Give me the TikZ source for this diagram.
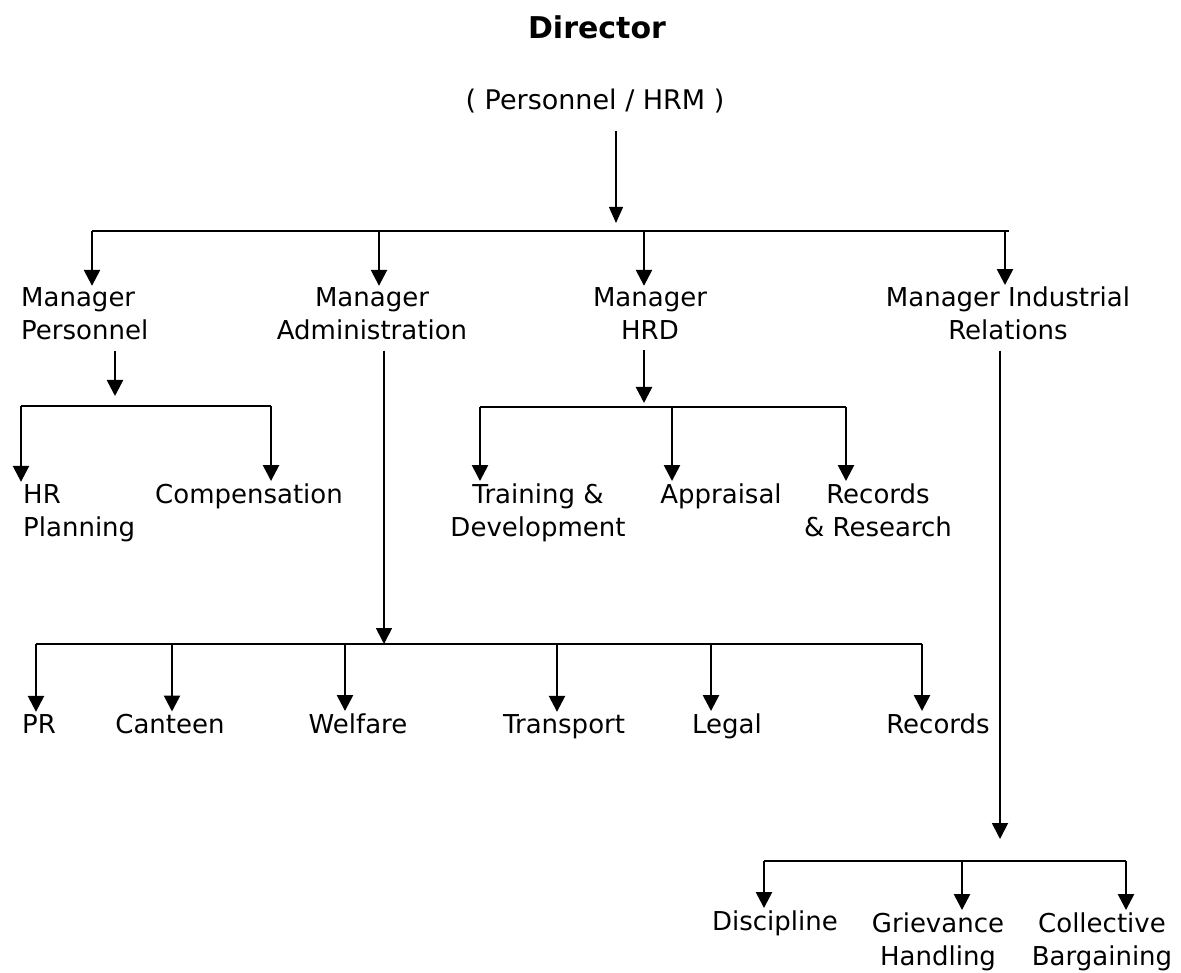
\documentclass[tikz,border=0pt]{standalone}
\usepackage{fontspec}
\setmainfont{DejaVu Sans}
\usetikzlibrary{arrows.meta, positioning, calc}

\begin{document}
\begin{tikzpicture}[x=1pt, y=-1pt, line join=miter]
    \tikzset{lbl/.style={font=\fontsize{26}{33}\selectfont, inner sep=2pt, anchor=base}}
    \tikzset{arr/.style={-{Triangle[length=16pt, width=16pt]}, line width=2.5pt}}
    \tikzset{thinarr/.style={-{Triangle[length=16pt, width=14pt]}, line width=1.3pt}}
    \tikzset{bus/.style={line width=2.5pt}}
    \useasboundingbox (0,0) rectangle (1181,973);

    % top
    \node[lbl, font=\fontsize{30}{36}\selectfont\bfseries] (dir) at (597,39) {Director};
    \node[lbl, font=\fontsize{27}{33}\selectfont] (hrm) at (595,110) {( Personnel / HRM )};

    % managers (base = last line)
    \node[lbl, anchor=base west, align=left] (mp) at (19,340) {Manager\\Personnel};
    \node[lbl, align=center] (ma) at (372,340) {Manager\\Administration};
    \node[lbl, align=center] (mh) at (650,340) {Manager\\HRD};
    \node[lbl, align=center] (mi) at (1008,340) {Manager Industrial\\Relations};

    % under personnel
    \node[lbl, anchor=base west, align=left] (hr) at (21,536) {HR\\Planning};
    \node[lbl, anchor=base west] (comp) at (153,503) {Compensation};

    % under hrd
    \node[lbl, align=center] (td) at (538,536) {Training \&\\Development};
    \node[lbl] (app) at (721,503) {Appraisal};
    \node[lbl, align=center] (rr) at (878,536) {Records\\\& Research};

    % under administration
    \node[lbl, anchor=base west] (pr) at (20,733) {PR};
    \node[lbl] (cant) at (170,733) {Canteen};
    \node[lbl] (welf) at (358,733) {Welfare};
    \node[lbl] (trans) at (564,733) {Transport};
    \node[lbl] (legal) at (727,733) {Legal};
    \node[lbl] (recs) at (938,733) {Records};

    % under industrial relations
    \node[lbl] (disc) at (775,930) {Discipline};
    \node[lbl, align=center] (griev) at (938,965) {Grievance\\Handling};
    \node[lbl, align=center] (coll) at (1102,965) {Collective\\Bargaining};

    % bus lines
    \coordinate (topL) at (92,231);
    \coordinate (topR) at (1009,231);
    \coordinate (topjoin) at (616,231);
    \coordinate (pjoin) at (115,406);
    \coordinate (hjoin) at (644,407);
    \coordinate (ajoin) at (384,644);
    \coordinate (ijoin) at (1000,861);

    \draw[bus] (topL) -- (topR);
    \draw[bus] (pjoin -| hr.north west) -- ([xshift=22]comp.north |- pjoin);
    \draw[bus] ([xshift=-58]td.north |- hjoin) -- ([xshift=-32]rr.north |- hjoin);
    \draw[bus] ([xshift=16]pr.north west |- ajoin) -- ([xshift=-16]recs.north |- ajoin);
    \draw[bus] ([xshift=-11]disc.north |- ijoin) -- ([xshift=24]coll.north |- ijoin);

    % director to managers
    \draw[thinarr, shorten <=15pt, shorten >=8pt] (hrm.south -| topjoin) -- (topjoin);
    \draw[arr] (topL) -- (topL |- mp.north);
    \draw[arr] ([xshift=7]ma.north |- topL) -- ([xshift=7]ma.north);
    \draw[arr] ([xshift=-6]mh.north |- topL) -- ([xshift=-6]mh.north);
    \draw[arr] ([xshift=-3]mi.north |- topL) -- ([xshift=-3]mi.north);

    % managers to sections
    \draw[arr, shorten <=8pt, shorten >=10pt] (pjoin |- mp.south) -- (pjoin);
    \draw[arr] (pjoin -| hr.north west) -- (hr.north west);
    \draw[arr] ([xshift=22]comp.north |- pjoin) -- ([xshift=22]comp.north);

    \draw[arr, shorten <=8pt, shorten >=4pt] (hjoin |- mh.south) -- (hjoin);
    \draw[arr] ([xshift=-58]td.north |- hjoin) -- ([xshift=-58]td.north);
    \draw[arr] ([xshift=-49]app.north |- hjoin) -- ([xshift=-49]app.north);
    \draw[arr] ([xshift=-32]rr.north |- hjoin) -- ([xshift=-32]rr.north);

    \draw[arr, line width=1.8pt, shorten <=8pt] (ajoin |- ma.south) -- (ajoin);
    \draw[arr] ([xshift=16]pr.north west |- ajoin) -- ([xshift=16]pr.north west);
    \draw[arr] ([xshift=2]cant.north |- ajoin) -- ([xshift=2]cant.north);
    \draw[arr] ([xshift=-13]welf.north |- ajoin) -- ([xshift=-13]welf.north);
    \draw[arr] ([xshift=-7]trans.north |- ajoin) -- ([xshift=-7]trans.north);
    \draw[arr] ([xshift=-16]legal.north |- ajoin) -- ([xshift=-16]legal.north);
    \draw[arr] ([xshift=-16]recs.north |- ajoin) -- ([xshift=-16]recs.north);

    \draw[arr, line width=1.8pt, shorten <=8pt, shorten >=22pt] (ijoin |- mi.south) -- (ijoin);
    \draw[arr] ([xshift=-11]disc.north |- ijoin) -- ([xshift=-11]disc.north);
    \draw[arr] ([xshift=24]griev.north |- ijoin) -- ([xshift=24]griev.north);
    \draw[arr] ([xshift=24]coll.north |- ijoin) -- ([xshift=24]coll.north);
\end{tikzpicture}
\end{document}
